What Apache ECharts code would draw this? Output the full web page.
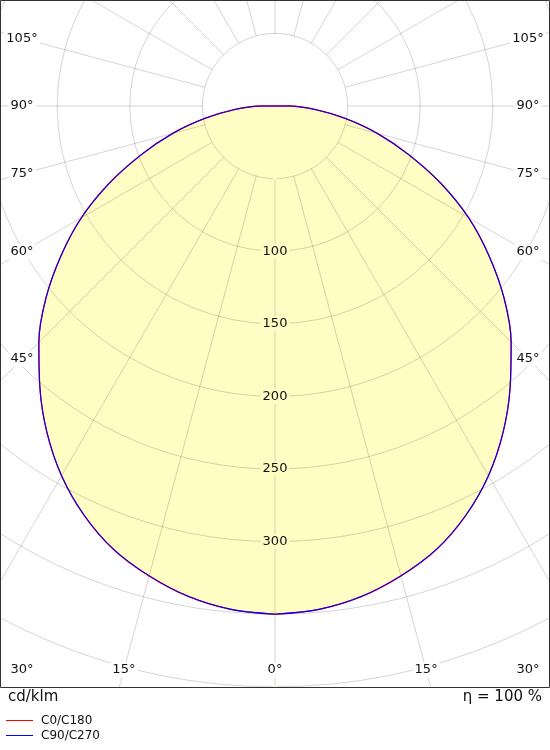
<!DOCTYPE html>
<html>
<head>
<meta charset="utf-8">
<script src="https://cdn.jsdelivr.net/npm/echarts@6/dist/echarts.min.js"></script>
<style>
html,body{margin:0;padding:0;background:#fff;}
#chart{width:550px;height:750px;}
</style>
</head>
<body>
<div id="chart"></div>
<script>
// Gamma angles (degrees) of the luminous intensity distribution
const gammas = [0,5,10,15,20,25,30,35,40,45,50,55,60,65,70,75,80,85,90,95,100,110,120,135,150,165,180];
// Intensity in cd/klm, C0/C180 plane
const c0c180 = [350,348,343,335,325,311,294,274,252,230,206,180,154,126,98,73,49,28,10,0,0,0,0,0,0,0,0];
// Intensity in cd/klm, C90/C270 plane
const c90c270 = [350,348,343,335,325,311,294,274,252,230,206,180,154,126,98,73,49,28,10,0,0,0,0,0,0,0,0];
// Radial tick labels shown
const radialLabels = [100,150,200,250,300];
// Angle labels
const angleLabelsBottom = [30,15,0,15,30];
const angleLabelsSide = [45,60,75,90,105];
const unitText = 'cd/klm';
const etaText = 'η = 100 %';

function loop(vals){
  const pts = [];
  for (let i = 0; i < gammas.length; i++) pts.push([vals[i], gammas[i]]);
  for (let i = gammas.length - 1; i >= 0; i--) pts.push([vals[i], 360 - gammas[i]]);
  return pts;
}

const chart = echarts.init(document.getElementById('chart'), null, {renderer:'canvas'});
const CX = 275, CY = 106, S = 1.452; // px per cd/klm
const inner = 50 * S, outer = 500 * S;
const FONT = 'DejaVu Sans, Verdana, sans-serif';
const gridColor = 'rgba(0,0,0,0.17)';

const graphics = [];
function addText(txt, x, y, align, bg, size){
  graphics.push({type:'text', z:95, x:x, y:y,
    style:{text:txt, fill:'#111', font: (size||13)+'px '+FONT, textAlign:align||'center', textVerticalAlign:'middle',
      backgroundColor: bg || null, padding: bg ? [1,2] : 0}});
}
const FL = 22, FR = 528, FB = 670;
angleLabelsBottom.forEach((g, i) => {
  const sign = i < 2 ? -1 : (i === 2 ? 0 : 1);
  let dx = (FB - CY) * Math.tan(g * Math.PI / 180);
  let x = CX + sign * dx;
  x = Math.max(FL, Math.min(FR, x));
  addText(g + '°', x, FB, 'center', '#fff');
});
angleLabelsSide.forEach(g => {
  const dy = (CX - FL) / Math.tan(g * Math.PI / 180);
  addText(g + '°', FL, CY + dy, 'center', '#fff');
  addText(g + '°', FR, CY + dy, 'center', '#fff');
});
graphics.unshift({type:'rect', z:90, shape:{x:0, y:688, width:550, height:62}, style:{fill:'#fff'}});
graphics.push({type:'rect', z:100, shape:{x:0.5, y:0.5, width:549, height:687}, style:{fill:'none', stroke:'#333', lineWidth:1}});
addText(unitText, 8, 697, 'left', null, 15);
addText(etaText, 542, 697, 'right', null, 15);

const SM = 0.35;
const option = {
  animation:false,
  backgroundColor:'#fff',
  polar:[
    {center:[CX, CY], radius:[inner, outer]},
    {center:[CX, CY], radius:[0, outer]}
  ],
  angleAxis:[
    {polarIndex:0, type:'value', min:0, max:360, interval:15, startAngle:270, clockwise:true, z:10,
      axisLine:{show:false}, axisTick:{show:false}, axisLabel:{show:false},
      splitLine:{show:true, lineStyle:{color:gridColor, width:1}}},
    {polarIndex:1, type:'value', min:0, max:360, interval:15, startAngle:270, clockwise:true, show:false,
      splitLine:{show:false}}
  ],
  radiusAxis:[
    {polarIndex:0, type:'value', min:50, max:500, interval:50, z:10,
      axisLine:{show:false}, axisTick:{show:false},
      splitLine:{show:true, lineStyle:{color:gridColor, width:1}},
      axisLabel:{show:true, margin:0, align:'center', verticalAlign:'middle', color:'#111',
        fontFamily:FONT, fontSize:13, backgroundColor:'#FFFDC3', padding:[1,2],
        formatter: v => radialLabels.indexOf(v) >= 0 ? String(v) : ''}},
    {polarIndex:1, type:'value', min:0, max:500, show:false, splitLine:{show:false}}
  ],
  legend:{
    orient:'vertical', left:6, top:713.5, z:110, icon:'rect', itemWidth:27, itemHeight:1, itemGap:1, padding:0,
    textStyle:{fontFamily:FONT, fontSize:12, color:'#111', padding:[0,0,0,3], lineHeight:14},
    data:['C0/C180','C90/C270']
  },
  series:[
    {type:'line', name:'fill', coordinateSystem:'polar', polarIndex:1, data:loop(c0c180), symbol:'none', z:1, smooth:SM,
      lineStyle:{width:0, opacity:0}, areaStyle:{color:'#FFFDC3', opacity:1}, silent:true},
    {type:'line', name:'C0/C180', coordinateSystem:'polar', polarIndex:1, data:loop(c0c180), symbol:'none', z:20, smooth:SM,
      lineStyle:{color:'#ff0000', width:1.3}, itemStyle:{color:'#ff0000'}},
    {type:'line', name:'C90/C270', coordinateSystem:'polar', polarIndex:1, data:loop(c90c270), symbol:'none', z:21, smooth:SM,
      lineStyle:{color:'#0000ff', width:1.1}, itemStyle:{color:'#0000ff'}}
  ],
  graphic:{elements:graphics}
};
chart.setOption(option);
</script>
</body>
</html>
